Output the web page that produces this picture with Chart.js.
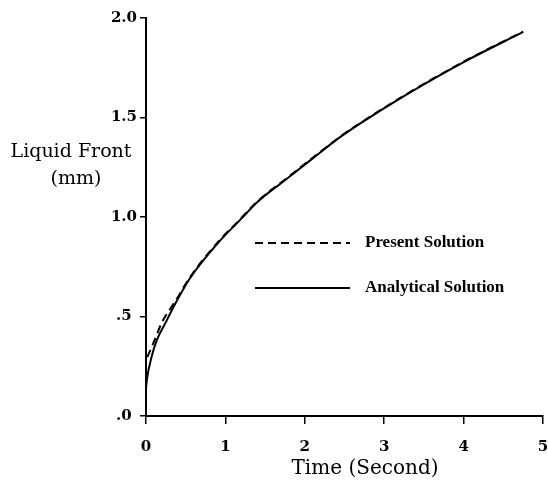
<!DOCTYPE html>
<html>
<head>
<meta charset="utf-8">
<script src="https://cdn.jsdelivr.net/npm/chart.js@4/dist/chart.umd.min.js"></script>
<style>
  html, body { margin: 0; padding: 0; background: #fff; }
  #c { display: block; }
</style>
</head>
<body>
<canvas id="c" width="548" height="485"></canvas>
<script>
// ---- Data ----
const analyticalTime  = [0, 0.01, 0.07, 0.135, 0.24, 0.39, 0.55, 0.93, 1.18, 1.41, 1.75, 2.06, 2.44, 2.69, 3.28, 3.99, 4.75];
const analyticalFront = [0.14, 0.18, 0.296, 0.38, 0.464, 0.58, 0.69, 0.88, 0.983, 1.078, 1.185, 1.282, 1.40, 1.468, 1.615, 1.776, 1.93];

const presentTime  = [0.017, 0.09, 0.2, 0.32, 0.39, 0.55, 0.93, 1.18, 1.41, 1.75, 2.06, 2.44, 2.69, 3.28, 3.99, 4.75];
const presentFront = [0.296, 0.364, 0.47, 0.548, 0.59, 0.695, 0.885, 0.986, 1.081, 1.188, 1.285, 1.402, 1.470, 1.617, 1.778, 1.932];

const xTickLabels = ['0', '1', '2', '3', '4', '5'];
const yTickLabels = ['.0', '.5', '1.0', '1.5', '2.0'];

const seriesNames = ['Present Solution', 'Analytical Solution'];
const yTitleLines = ['Liquid Front', '(mm)'];
const xTitle = 'Time (Second)';

function toPoints(xs, ys) { return xs.map((x, i) => ({ x: x, y: ys[i] })); }

const SERIF = "'DejaVu Serif', 'Liberation Serif', serif";

const whiteBg = {
  id: 'whiteBg',
  beforeDraw(chart) {
    const ctx = chart.ctx;
    ctx.save();
    ctx.fillStyle = '#fff';
    ctx.fillRect(0, 0, chart.width, chart.height);
    ctx.restore();
  }
};

const extras = {
  id: 'extras',
  afterDraw(chart) {
    const ctx = chart.ctx;
    ctx.save();
    ctx.fillStyle = '#000';
    ctx.textAlign = 'center';
    ctx.textBaseline = 'middle';
    // y-axis title (horizontal, at left)
    ctx.font = "19px " + SERIF;
    ctx.fillText(yTitleLines[0], 71, 152);
    ctx.fillText(yTitleLines[1], 76, 179);
    // x-axis title
    ctx.font = "20px " + SERIF;
    ctx.fillText(xTitle, 365, 469);

    // legend inside plot
    const ds = chart.data.datasets;
    const rows = [243, 288];
    ctx.font = "bold 17px 'Liberation Serif', serif";
    ctx.textAlign = 'left';
    for (let i = 0; i < 2; i++) {
      ctx.beginPath();
      ctx.strokeStyle = '#000';
      ctx.lineWidth = 2;
      ctx.setLineDash(ds[i].borderDash || []);
      ctx.moveTo(255, rows[i]);
      ctx.lineTo(350, rows[i]);
      ctx.stroke();
      ctx.setLineDash([]);
      ctx.fillText(ds[i].label, 365, rows[i]);
    }
    ctx.restore();
  }
};

new Chart(document.getElementById('c'), {
  type: 'scatter',
  data: {
    datasets: [
      {
        label: seriesNames[0],
        data: toPoints(presentTime, presentFront),
        showLine: true,
        borderColor: '#000',
        borderWidth: 2,
        borderDash: [8, 5],
        pointRadius: 0,
        cubicInterpolationMode: 'monotone',
        fill: false
      },
      {
        label: seriesNames[1],
        data: toPoints(analyticalTime, analyticalFront),
        showLine: true,
        borderColor: '#000',
        borderWidth: 2,
        pointRadius: 0,
        cubicInterpolationMode: 'monotone',
        fill: false
      }
    ]
  },
  options: {
    responsive: false,
    animation: false,
    layout: { padding: { top: 18, right: 5, left: 0, bottom: 0 } },
    plugins: {
      legend: { display: false },
      tooltip: { enabled: false }
    },
    scales: {
      x: {
        type: 'linear',
        min: 0, max: 5,
        ticks: {
          stepSize: 1,
          color: '#000',
          padding: 14,
          font: { family: SERIF, size: 15, weight: 'bold' },
          callback: (v, i) => xTickLabels[i]
        },
        grid: { drawOnChartArea: false, drawTicks: true, tickLength: 8, color: '#000', lineWidth: 1.5 },
        border: { display: true, color: '#000', width: 2 },
        afterFit: s => { s.height = 69; s.paddingLeft = 0; s.paddingRight = 0; }
      },
      y: {
        type: 'linear',
        min: 0, max: 2,
        ticks: {
          stepSize: 0.5,
          color: '#000',
          padding: 3,
          crossAlign: 'center',
          font: { family: SERIF, size: 15, weight: 'bold' },
          callback: (v, i) => yTickLabels[i]
        },
        grid: { drawOnChartArea: false, drawTicks: true, tickLength: 6, color: '#000', lineWidth: 1.5 },
        border: { display: true, color: '#000', width: 2 },
        afterFit: s => { s.width = 146; s.paddingTop = 0; s.paddingBottom = 0; }
      }
    }
  },
  plugins: [whiteBg, extras]
});
</script>
</body>
</html>
